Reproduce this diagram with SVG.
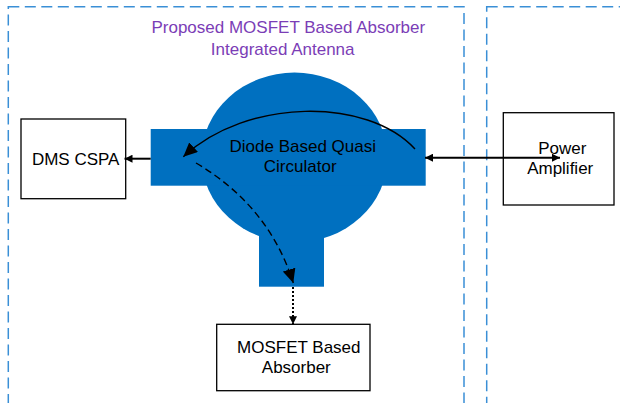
<svg xmlns="http://www.w3.org/2000/svg" width="620" height="403" viewBox="0 0 620 403">
  <style>
    .frame { fill: none; stroke: #3A8FD6; stroke-width: 1.5; stroke-dasharray: 11 5.5; }
    .box { fill: #FFFFFF; stroke: #000000; stroke-width: 1.3; }
    .blue { fill: #0070C0; stroke: none; }
    .t { font-family: "Liberation Sans", Arial, sans-serif; font-size: 17px; fill: #000000; text-anchor: middle; }
    .title { fill: #7B3DB6; }
    .line2 { fill: none; stroke: #000000; stroke-width: 2; }
    .arc { fill: none; stroke: #000000; stroke-width: 1.4; }
  </style>
  <defs>
    <marker id="bigHead" markerUnits="userSpaceOnUse" markerWidth="14" markerHeight="13" refX="14" refY="6.5" orient="auto">
      <path d="M0,0 L14,6.5 L0,13 z" fill="#000000"/>
    </marker>
    <marker id="smallHead" markerUnits="userSpaceOnUse" markerWidth="8" markerHeight="8" refX="8" refY="4" orient="auto-start-reverse">
      <path d="M0,0 L8,4 L0,8 z" fill="#000000"/>
    </marker>
  </defs>

  <g id="frames">
    <rect class="frame" x="8.3" y="6.7" width="455.7" height="420"/>
    <rect class="frame" x="486.7" y="6.7" width="160" height="420"/>
  </g>

  <g id="title">
    <text class="t title" x="288.3" y="33.3">Proposed MOSFET Based Absorber</text>
    <text class="t title" x="282.7" y="55">Integrated Antenna</text>
  </g>

  <g id="circulator">
    <ellipse class="blue" cx="294.5" cy="157.5" rx="93" ry="85"/>
    <rect class="blue" x="150.7" y="129" width="275" height="56.7"/>
    <rect class="blue" x="259" y="200" width="65" height="86.7"/>
    <text class="t" x="302.8" y="151.7">Diode Based Quasi</text>
    <text class="t" x="300.2" y="172.3">Circulator</text>
  </g>

  <g id="dms-cspa">
    <rect class="box" x="21" y="119" width="104.7" height="79.7"/>
    <text class="t" x="75.7" y="165">DMS CSPA</text>
  </g>

  <g id="power-amplifier">
    <rect class="box" x="503.3" y="112.7" width="110.7" height="92.3"/>
    <text class="t" x="562.3" y="154">Power</text>
    <text class="t" x="560.2" y="174.3">Amplifier</text>
  </g>

  <g id="mosfet-absorber">
    <rect class="box" x="216.7" y="324.3" width="153.3" height="66.4"/>
    <text class="t" x="298.8" y="352.7">MOSFET Based</text>
    <text class="t" x="296.3" y="373.3">Absorber</text>
  </g>

  <g id="connectors">
    <path class="arc" d="M415,149 C367,97 247,98 183.3,156.7" marker-end="url(#bigHead)"/>
    <path class="arc" d="M196,163 Q269,206 293.3,283" stroke-dasharray="7 4" marker-end="url(#bigHead)"/>
    <line class="line2" x1="293" y1="287" x2="293" y2="324.3" stroke-dasharray="2 2" marker-end="url(#smallHead)"/>
    <line class="line2" x1="150.7" y1="158.7" x2="124.5" y2="158.7" marker-end="url(#smallHead)"/>
    <line class="line2" x1="425" y1="157.7" x2="560" y2="157.7" marker-start="url(#smallHead)" marker-end="url(#smallHead)"/>
  </g>
</svg>
